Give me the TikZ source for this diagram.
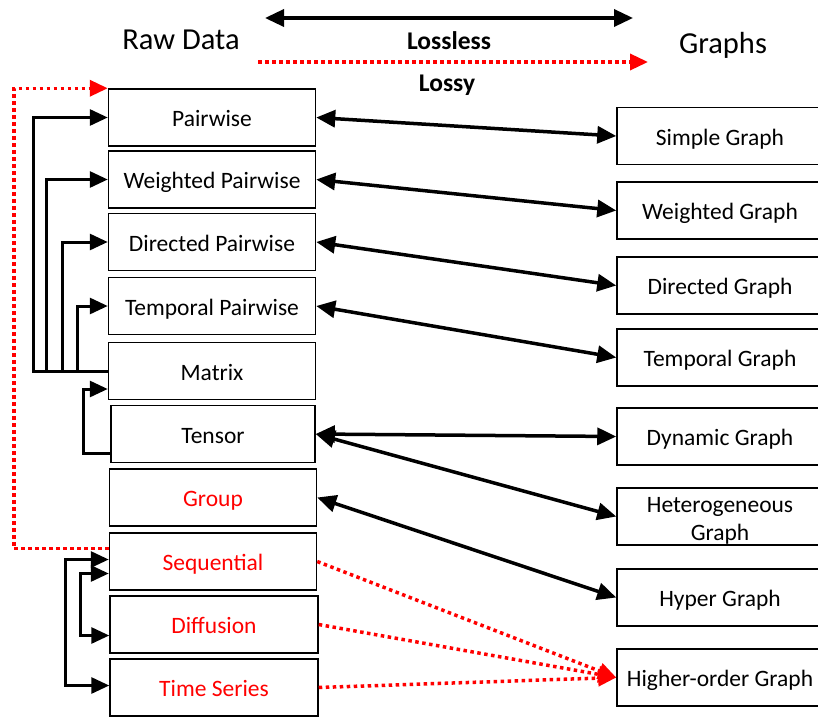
\documentclass[tikz,border=0pt]{standalone}
\usepackage{fontspec}
\setmainfont{Carlito}
\usetikzlibrary{arrows.meta}

\begin{document}
\begin{tikzpicture}[x=1pt,y=-1pt,
  rawbox/.style={draw, line width=1.5pt, minimum width=207pt, minimum height=57pt, inner sep=0pt, text height=20pt, text depth=2pt, font=\fontsize{23.5}{27.5}\selectfont},
  graphbox/.style={rawbox, minimum width=206pt, align=center},
  lossless/.style={line width=3.5pt, {Triangle[length=19pt,width=17pt]}-{Triangle[length=19pt,width=17pt]}},
  lossy/.style={red, line width=3.5pt, dash pattern=on 3.5pt off 3.5pt, -{Triangle[length=18pt,width=16pt]}},
  link/.style={line width=3pt, -{Triangle[length=18pt,width=16pt]}},
  title/.style={font=\fontsize{30.5}{34}\selectfont},
  legend/.style={font=\bfseries\fontsize{25.5}{28}\selectfont}]
\useasboundingbox (0,0) rectangle (818,717);
% \draw[help lines, color=gray!30] (0,0) grid[step=50pt] (818,717);
\node[title] (rawtitle) at (181,40) {Raw Data};
\node[title] (graphtitle) at (723,45) {Graphs};
\coordinate (lla) at (265,18); \coordinate (llb) at (633,18);
\coordinate (lya) at (258,62); \coordinate (lyb) at (648,62);
\draw[lossless] (lla)--(llb);
\node[legend] (lossless) at (449,41) {Lossless};
\draw[lossy] (lya)--(lyb);
\node[legend] (lossy) at (447,85) {Lossy};
% raw data
\node[rawbox] (pair) at (212,117.5) {Pairwise};
\node[rawbox] (wpair) at (212,179.5) {Weighted Pairwise};
\node[rawbox] (dpair) at (212,242) {Directed Pairwise};
\node[rawbox] (tpair) at (212,306) {Temporal Pairwise};
\node[rawbox] (matrix) at (212,371) {Matrix};
\node[rawbox, minimum width=204pt] (tensor) at (213,434) {Tensor};
\node[rawbox, text=red] (group) at (213,497.5) {Group};
\node[rawbox, text=red] (seq) at (213,561.5) {Sequential};
\node[rawbox, text=red, minimum width=208pt] (diff) at (214,624.5) {Diffusion};
\node[rawbox, text=red, minimum width=208pt] (ts) at (214,687.5) {Time Series};
% graphs
\node[graphbox] (simple) at (720,136) {Simple Graph};
\node[graphbox] (weighted) at (720,210.5) {Weighted Graph};
\node[graphbox] (directed) at (720,285.5) {Directed Graph};
\node[graphbox] (temporal) at (720,357.5) {Temporal Graph};
\node[graphbox] (dynamic) at (720,436.5) {Dynamic Graph};
\node[graphbox, text height=49pt, text depth=2pt] (hetero) at (720,516.5) {Heterogeneous\\Graph};
\node[graphbox] (hyper) at (720,597.5) {Hyper Graph};
\node[graphbox] (higher) at (720,677.5) {Higher-order Graph};
% lossless links
\draw[lossless] (pair.east)--(simple.west);
\draw[lossless] (wpair.east)--(weighted.west);
\draw[lossless] (dpair.east)--(directed.west);
\draw[lossless] (tpair.east)--(temporal.west);
\draw[lossless] (tensor.east)--(dynamic.west);
\draw[lossless] (tensor.east)--(hetero.west);
\draw[lossless] (group.east)--(hyper.west);
% lossy links
\draw[lossy] (seq.east)--(higher.west);
\draw[lossy] (diff.east)--(higher.west);
\draw[lossy] (ts.east)--(higher.west);
% left side
\draw[link] (matrix.west) -| ([xshift=-74pt]pair.west) -- (pair.west);
\draw[link] (matrix.west) -| ([xshift=-61pt]wpair.west) -- (wpair.west);
\draw[link] (matrix.west) -| ([xshift=-45pt]dpair.west) -- (dpair.west);
\draw[link] (matrix.west) -| ([xshift=-30pt]tpair.west) -- (tpair.west);
\draw[link] ([yshift=-19pt]tensor.west) -| ([xshift=-24pt,yshift=-18pt]matrix.west) -- ([yshift=-18pt]matrix.west);
\draw[lossy] ([yshift=13pt]seq.west) -| ([xshift=-94pt]pair.north west) -- (pair.north west);
\draw[link, {Triangle[length=18pt,width=16pt]}-{Triangle[length=18pt,width=16pt]}] ([yshift=2pt]seq.west) -- ++(-43,0) |- ([yshift=2pt]ts.west);
\draw[link, {Triangle[length=18pt,width=16pt]}-{Triangle[length=18pt,width=16pt]}] ([yshift=-12pt]seq.west) -- ++(-28,0) |- ([yshift=-11pt]diff.west);
\end{tikzpicture}
\end{document}
